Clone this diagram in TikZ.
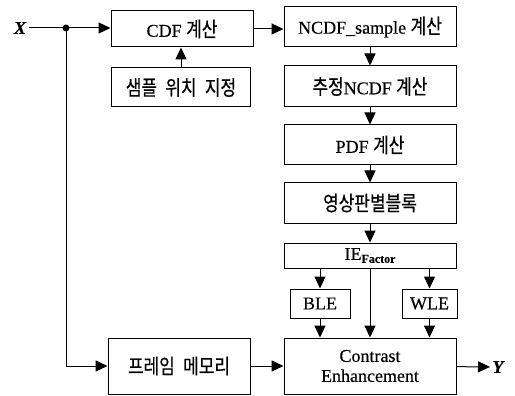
\documentclass[tikz,border=0pt]{standalone}
\usepackage{fontspec}
\setmainfont{Liberation Serif}[FakeBold=0.35]
\newfontfamily\kr[FakeStretch=0.82,Scale=1.15,FakeBold=0.5]{Noto Sans CJK KR}
\usetikzlibrary{arrows.meta,calc}
\tikzset{
	arr/.style={-{Triangle[length=12pt,width=11pt]}},
	blk/.style={draw,minimum width=172pt,minimum height=40pt,inner sep=0pt,font=\fontsize{18}{20}\selectfont},
	krblk/.style={blk,font=\kr\fontsize{18}{20}\selectfont},
	sig/.style={inner sep=2pt,font=\fontsize{18}{20}\selectfont\bfseries\itshape}
}

\begin{document}
\begin{tikzpicture}[x=1pt,y=-1pt,line width=1pt]
		\useasboundingbox (0,0) rectangle (515,396);
		
		% left column
		\node[blk,minimum width=142pt,minimum height=36pt] (cdf) at (182,29) {CDF {\kr 계산}};
		\node[krblk,minimum width=139pt,minimum height=39pt] (smp) at (181,87.5) {샘플\hspace{0.4em}위치\hspace{0.4em}지정};
		\node[krblk,minimum width=142pt,minimum height=56pt] (fm) at (179,366) {프레임\hspace{0.4em}메모리};
		
		% right column
		\node[blk] (ncdf) at (370,27) {NCDF\_sample {\kr 계산}};
		\node[blk,minimum height=41pt] (est) at (370,86.5) {{\kr 추정}NCDF {\kr 계산}};
		\node[blk] (pdf) at (370,145) {PDF {\kr 계산}};
		\node[krblk] (img) at (370,203) {영상판별블록};
		\node[blk,minimum height=25pt] (ie) at (370,255.5) {IE\raisebox{-0.35ex}{\fontsize{12}{14}\selectfont\bfseries Factor}};
		\node[blk,minimum width=60pt,minimum height=29pt] (ble) at (320,303.5) {BLE};
		\node[blk,minimum width=55pt,minimum height=29pt] (wle) at (429.5,303.5) {WLE};
		\node[blk,minimum height=56pt,align=center] (ce) at (370,366) {Contrast\\Enhancement};
		
		% signals
		\node[sig] (x) at (20,28) {X};
		\node[sig,anchor=west] (y) at (490,367) {Y};
		\coordinate (dot) at (66,28);
		\fill (dot) circle (3.5pt);
		
		\draw (x) -- (dot);
		\draw[arr] (dot) -- (cdf.west |- dot);
		\draw[arr] (smp.north) -- (smp.north |- cdf.south);
		\draw[arr] (cdf.east) -- (ncdf.west |- cdf.east);
		\draw[arr] (ncdf) -- (est);
		\draw[arr] (est) -- (pdf);
		\draw[arr] (pdf) -- (img);
		\draw[arr] (img) -- (ie);
		\draw[arr] (ie.south -| ble) -- (ble);
		\draw[arr] (ie.south -| wle) -- (wle);
		\draw[arr] (ble) -- (ble |- ce.north);
		\draw[arr] (wle) -- (wle |- ce.north);
		\draw[arr] (ie) -- (ce);
		\draw[arr] (dot) |- (fm.west);
		\draw[arr] (fm) -- (ce);
		\draw[arr] (ce) -- (y);
	\end{tikzpicture}
\end{document}
